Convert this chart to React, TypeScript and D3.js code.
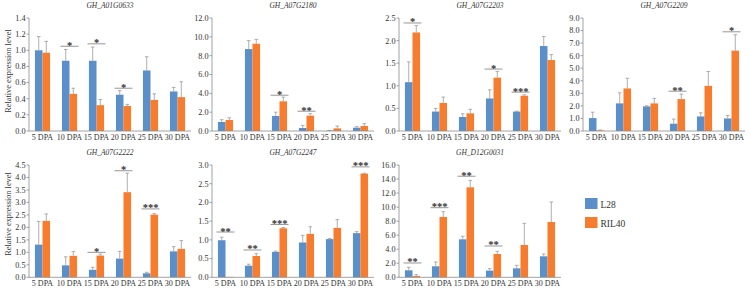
import React from "react";
import * as d3 from "d3";

const categories = ["5 DPA", "10 DPA", "15 DPA", "20 DPA", "25 DPA", "30 DPA"];
const seriesNames = ["L28", "RIL40"];
const genes = ["GH_A01G0633", "GH_A07G2180", "GH_A07G2203", "GH_A07G2209", "GH_A07G2222", "GH_A07G2247", "GH_D12G0031"];

const l28Mean = [
  [1.0, 0.87, 0.87, 0.45, 0.75, 0.49],
  [0.96, 8.7, 1.6, 0.32, 0.04, 0.35],
  [1.08, 0.43, 0.31, 0.72, 0.43, 1.88],
  [1.03, 2.2, 1.96, 0.58, 1.16, 1.0],
  [1.31, 0.48, 0.3, 0.75, 0.16, 1.04],
  [0.99, 0.31, 0.68, 0.93, 1.02, 1.18],
  [1.0, 1.57, 5.41, 0.95, 1.28, 2.99],
];
const l28Err = [
  [0.17, 0.14, 0.17, 0.05, 0.17, 0.05],
  [0.24, 0.9, 0.4, 0.28, 0.03, 0.11],
  [0.45, 0.07, 0.07, 0.19, 0.01, 0.21],
  [0.47, 0.84, 0.05, 0.37, 0.29, 0.24],
  [0.93, 0.34, 0.1, 0.29, 0.04, 0.19],
  [0.08, 0.04, 0.02, 0.19, 0.02, 0.04],
  [0.42, 0.61, 0.43, 0.28, 0.43, 0.33],
];
const ril40Mean = [
  [0.97, 0.46, 0.32, 0.31, 0.385, 0.42],
  [1.17, 9.27, 3.15, 1.63, 0.28, 0.53],
  [2.18, 0.62, 0.39, 1.18, 0.78, 1.57],
  [0.05, 3.39, 2.2, 2.54, 3.6, 6.4],
  [2.26, 0.86, 0.87, 3.41, 2.51, 1.14],
  [0.01, 0.57, 1.31, 1.16, 1.32, 2.77],
  [0.19, 8.6, 12.82, 3.32, 4.6, 7.88],
];
const ril40Err = [
  [0.14, 0.07, 0.07, 0.02, 0.075, 0.19],
  [0.23, 0.46, 0.45, 0.21, 0.25, 0.25],
  [0.15, 0.13, 0.09, 0.14, 0.02, 0.12],
  [0.03, 0.81, 0.4, 0.4, 1.14, 1.27],
  [0.28, 0.17, 0.06, 0.76, 0.04, 0.33],
  [0.0, 0.06, 0.02, 0.19, 0.22, 0.01],
  [0.19, 0.75, 0.98, 0.38, 3.09, 2.85],
];
const sigMarks = [
  ["", "*", "*", "*", "", ""],
  ["", "", "*", "**", "", ""],
  ["*", "", "", "*", "***", ""],
  ["", "", "", "**", "", "*"],
  ["", "", "*", "*", "***", ""],
  ["**", "**", "***", "", "", "***"],
  ["**", "***", "**", "**", "", ""],
];
const sigLevel = [
  [0, 1.05, 1.08, 0.53, 0, 0],
  [0, 0, 3.8, 2.1, 0, 0],
  [2.39, 0, 0, 1.37, 0.86, 0],
  [0, 0, 0, 3.17, 0, 7.9],
  [0, 0, 1.0, 4.27, 2.74, 0],
  [1.21, 0.73, 1.41, 0, 0, 2.95],
  [2.04, 9.92, 14.4, 4.46, 0, 0],
];
const yMaxes = [1.4, 12, 2.5, 9, 4.5, 3, 16];
const yStepsArr = [0.2, 2, 0.5, 1, 0.5, 0.5, 2];

const W = 750;
const H = 291;
const BLUE = "#5B8FCA";
const ORANGE = "#F87C2E";
const AXIS = "#8a8a8a";
const FONT = "'Liberation Serif', 'Times New Roman', serif";

const panelX = [29, 212, 399, 583, 29, 212, 399];
const rows = [
  { top: 18, bottom: 131 },
  { top: 165, bottom: 277.3 },
];
const plotW = 162;

function Panel({ i }: { i: number }) {
  const row = i < 4 ? rows[0] : rows[1];
  const x0 = panelX[i];
  const x = d3.scaleBand<string>().domain(categories).range([x0, x0 + plotW]).paddingInner(0).paddingOuter(0);
  const y = d3.scaleLinear().domain([0, yMaxes[i]]).range([row.bottom, row.top]);
  const ticks = d3.range(0, yMaxes[i] + yStepsArr[i] / 2, yStepsArr[i]);
  const fmt = d3.format(".1f");
  const bw = x.bandwidth();
  const barW = bw * 0.28;
  const pairW = barW * 2;
  const means = [l28Mean[i], ril40Mean[i]];
  const errs = [l28Err[i], ril40Err[i]];
  const colors = [BLUE, ORANGE];
  return (
    <g>
      <text x={x0 + plotW / 2} y={row.top - 10} textAnchor="middle" fontSize={7.5} fontStyle="italic" fontFamily={FONT} fill="#333">
        {genes[i]}
      </text>
      {categories.map((c, ci) => {
        const cx = (x(c) as number) + bw / 2;
        return (
          <g key={c}>
            {[0, 1].map((s) => {
              const bx = cx - pairW / 2 + s * barW;
              const v = means[s][ci];
              const e = errs[s][ci];
              const ex = bx + barW / 2;
              return (
                <g key={s}>
                  <rect x={bx} y={y(v)} width={barW} height={y(0) - y(v)} fill={colors[s]} />
                  {e > 0 && (
                    <g stroke="#9a9a9a" strokeWidth={0.8}>
                      <line x1={ex} x2={ex} y1={y(v)} y2={y(v + e)} />
                      <line x1={ex - 1.8} x2={ex + 1.8} y1={y(v + e)} y2={y(v + e)} />
                    </g>
                  )}
                </g>
              );
            })}
            {sigMarks[i][ci] && (
              <g>
                <line x1={cx - 9} x2={cx + 9} y1={y(sigLevel[i][ci])} y2={y(sigLevel[i][ci])} stroke="#8a8a8a" strokeWidth={0.9} />
                <text x={cx} y={y(sigLevel[i][ci]) + 2.5} textAnchor="middle" fontSize={10.5} fontWeight="bold" fontFamily={FONT} fill="#333">
                  {sigMarks[i][ci]}
                </text>
              </g>
            )}
            <text x={cx} y={row.bottom + 8.8} textAnchor="middle" fontSize={8} fontFamily={FONT} fill="#333">
              {c}
            </text>
          </g>
        );
      })}
      <line x1={x0} x2={x0} y1={row.top} y2={row.bottom} stroke={AXIS} strokeWidth={0.8} />
      <line x1={x0} x2={x0 + plotW} y1={row.bottom} y2={row.bottom} stroke={AXIS} strokeWidth={0.8} />
      {ticks.map((t) => (
        <g key={t}>
          <line x1={x0 - 2.5} x2={x0} y1={y(t)} y2={y(t)} stroke={AXIS} strokeWidth={0.8} />
          <text x={x0 - 3.5} y={y(t) + 2.9} textAnchor="end" fontSize={8.2} fontFamily={FONT} fill="#333">
            {fmt(t)}
          </text>
        </g>
      ))}
    </g>
  );
}

export default function App() {
  return (
    <svg width={W} height={H} style={{ position: "absolute", left: 0, top: 0, background: "#fff" }}>
      <rect width={W} height={H} fill="#fff" />
      {genes.map((g, i) => (
        <Panel key={g} i={i} />
      ))}
      {rows.map((r, ri) => (
        <text
          key={ri}
          transform={`translate(10.5, ${ri === 0 ? 71 : 214}) rotate(-90)`}
          textAnchor="middle"
          fontSize={8.3}
          fontFamily={FONT}
          fill="#333"
        >
          Relative expression level
        </text>
      ))}
      {seriesNames.map((n, si) => (
        <g key={n}>
          <rect x={585} y={198 + si * 19} width={12.5} height={11} fill={si === 0 ? BLUE : ORANGE} />
          <text x={600.5} y={207.5 + si * 19} fontSize={9.5} fontFamily={FONT} fill="#333">
            {n}
          </text>
        </g>
      ))}
    </svg>
  );
}
